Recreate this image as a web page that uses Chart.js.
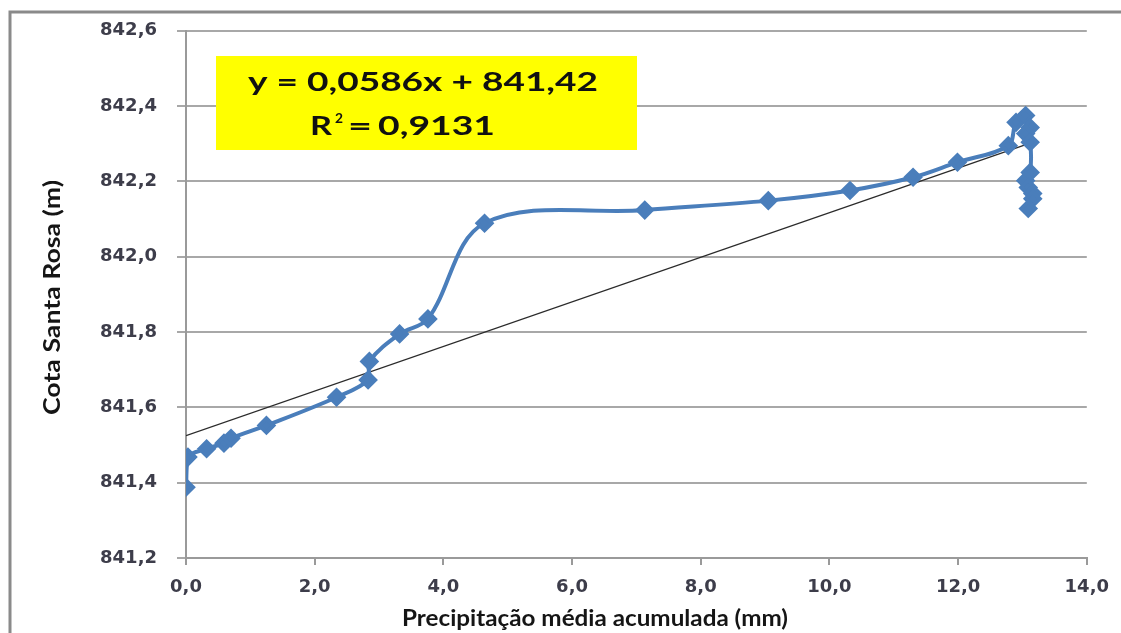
<!DOCTYPE html>
<html>
<head>
<meta charset="utf-8">
<script src="https://cdn.jsdelivr.net/npm/chart.js@4.4.1/dist/chart.umd.min.js"></script>
<style>
  html, body { margin: 0; padding: 0; background: #fff; }
  #wrap { position: relative; width: 1121px; height: 633px; }
</style>
</head>
<body>
<div id="wrap"><canvas id="chart" width="1121" height="633"></canvas></div>
<script>
// precipitation (mm) vs. water level (m)
const precip = [0, 0.03, 0.32, 0.59, 0.70, 1.25, 2.34, 2.83, 2.85, 3.32, 3.76, 4.64, 7.13, 9.05,
  10.32, 11.30, 11.99, 12.78, 12.90, 13.05, 13.12, 13.05, 13.12, 13.12, 13.05, 13.09, 13.16, 13.16, 13.09];
const cota = [841.388, 841.468, 841.490, 841.505, 841.518, 841.552, 841.627, 841.673, 841.722, 841.795,
  841.835, 842.089, 842.124, 842.149, 842.176, 842.211, 842.251, 842.295, 842.357, 842.375, 842.343,
  842.327, 842.304, 842.224, 842.202, 842.184, 842.168, 842.154, 842.128];

// linear trend line as drawn
const trendX = [0, 13.12];
const trendY = [841.525, 842.302];

const equationText = 'y = 0,0586x + 841,42';
const r2Value = '0,9131';
const xTitle = 'Precipitação média acumulada (mm)';
const yTitle = 'Cota Santa Rosa (m)';

const fmt = v => v.toFixed(1).replace('.', ',');

// text squeezed/stretched to a given width (the original figure is stretched sideways)
function fitText(ctx, text, x, y, width) {
  const w = ctx.measureText(text).width;
  ctx.save();
  ctx.translate(x, y);
  ctx.scale(width / w, 1);
  ctx.fillText(text, 0, 0);
  ctx.restore();
}

const decor = {
  id: 'decor',
  beforeDraw(chart) {
    const ctx = chart.ctx;
    ctx.save();
    ctx.fillStyle = '#fff';
    ctx.fillRect(0, 0, chart.width, chart.height);
    ctx.strokeStyle = '#8a8a8a';
    ctx.lineWidth = 3;
    ctx.beginPath();
    ctx.moveTo(10, chart.height);
    ctx.lineTo(10, 12);
    ctx.lineTo(chart.width, 12);
    ctx.stroke();
    ctx.restore();
  },
  afterDraw(chart) {
    const ctx = chart.ctx;
    ctx.save();
    // axis titles
    ctx.fillStyle = '#151515';
    ctx.textBaseline = 'alphabetic';
    ctx.textAlign = 'left';
    ctx.font = 'bold 23px Lato';
    fitText(ctx, xTitle, 402, 626, 386);
    ctx.save();
    ctx.translate(60, 415);
    ctx.rotate(-Math.PI / 2);
    fitText(ctx, yTitle, 0, 0, 235);
    ctx.restore();

    // equation box
    ctx.fillStyle = '#ffff00';
    ctx.fillRect(216, 56, 421, 94);
    ctx.fillStyle = '#111';
    ctx.font = 'bold 27px Lato';
    fitText(ctx, equationText, 248, 91, 350);
    fitText(ctx, 'R', 310, 135, 22);
    fitText(ctx, '=', 348, 135, 24);
    fitText(ctx, r2Value, 378, 135, 117);
    ctx.font = 'bold 14px Lato';
    fitText(ctx, '2', 335, 123, 8);
    ctx.restore();
  }
};

new Chart(document.getElementById('chart'), {
  type: 'scatter',
  data: {
    datasets: [{
      data: precip.map((x, i) => ({ x: x, y: cota[i] })),
      showLine: true,
      borderColor: '#4a7ebb',
      backgroundColor: '#4a7ebb',
      borderWidth: 4,
      tension: 0.35,
      pointStyle: 'rectRot',
      pointRadius: 7,
      pointHoverRadius: 7
    }, {
      data: trendX.map((x, i) => ({ x: x, y: trendY[i] })),
      showLine: true,
      borderColor: '#2b2b2b',
      borderWidth: 1.3,
      pointRadius: 0
    }]
  },
  options: {
    responsive: false,
    animation: false,
    layout: { padding: { top: 30, right: 32, left: 0, bottom: 0 } },
    plugins: { legend: { display: false }, tooltip: { enabled: false } },
    scales: {
      x: {
        type: 'linear',
        min: 0, max: 14,
        afterFit: s => { s.height = 75; },
        ticks: {
          stepSize: 2,
          padding: 12,
          color: '#3d3d4a',
          font: { family: 'DejaVu Sans', weight: 'bold', size: 18 },
          callback: v => fmt(v)
        },
        grid: { drawOnChartArea: false, drawTicks: true, tickLength: 7, color: '#9a9a9a', lineWidth: 2 },
        border: { color: '#9a9a9a', width: 2 }
      },
      y: {
        min: 841.2, max: 842.6,
        afterFit: s => { s.width = 186; },
        ticks: {
          stepSize: 0.2,
          padding: 20,
          color: '#3d3d4a',
          font: { family: 'DejaVu Sans', weight: 'bold', size: 18 },
          callback: v => fmt(v)
        },
        grid: { color: '#a8a8a8', lineWidth: 2, tickLength: 9 },
        border: { color: '#9a9a9a', width: 2 }
      }
    }
  },
  plugins: [decor]
});
</script>
</body>
</html>
